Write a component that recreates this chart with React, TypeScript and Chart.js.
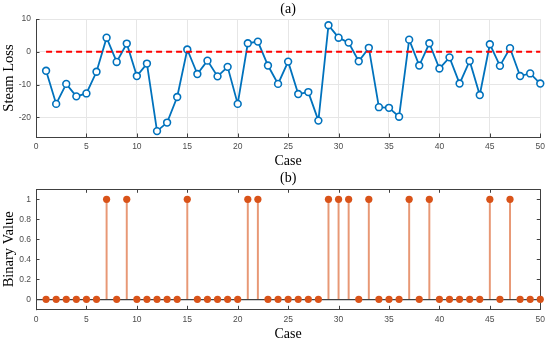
import React, { useEffect, useRef } from 'react';
import { Chart, registerables } from 'chart.js';

Chart.register(...registerables);

const cases = [
  1, 2, 3, 4, 5, 6, 7, 8, 9, 10, 11, 12, 13, 14, 15, 16, 17, 18, 19, 20, 21, 22, 23, 24, 25,
  26, 27, 28, 29, 30, 31, 32, 33, 34, 35, 36, 37, 38, 39, 40, 41, 42, 43, 44, 45, 46, 47, 48, 49, 50,
];

const steamLoss = [
  -5.8, -15.9, -9.8, -13.6, -12.7, -6.1, 4.3, -3.1, 2.5, -7.4,
  -3.6, -24.2, -21.6, -13.8, 0.7, -6.8, -2.7, -7.5, -4.6, -15.9,
  2.6, 3.1, -4.2, -9.8, -3.0, -12.9, -12.3, -21.0, 8.1, 4.3,
  2.8, -2.9, 1.2, -16.9, -17.1, -19.8, 3.7, -4.2, 2.6, -5.1,
  -1.7, -9.7, -2.8, -13.2, 2.3, -4.3, 1.1, -7.4, -6.6, -9.7,
];

const binaryValue = [
  0, 0, 0, 0, 0, 0, 1, 0, 1, 0,
  0, 0, 0, 0, 1, 0, 0, 0, 0, 0,
  1, 1, 0, 0, 0, 0, 0, 0, 1, 1,
  1, 0, 1, 0, 0, 0, 1, 0, 1, 0,
  0, 0, 0, 0, 1, 0, 1, 0, 0, 0,
];

const threshold = 0;
const caseTicks = [0, 5, 10, 15, 20, 25, 30, 35, 40, 45, 50];
const lossTicks = [-20, -10, 0, 10];
const binaryTicks = [0, 0.2, 0.4, 0.6, 0.8, 1];

const AXIS = '#404040';
const TICK_FONT = { family: 'Liberation Sans', size: 8.5 };
const TICK_COLOR = '#4d4d4d';
const SERIF = 'Liberation Serif';

const framePlugin = {
  id: 'frame',
  beforeDatasetsDraw(chart: any, _args: any, opts: any) {
    const { ctx, chartArea: a, scales } = chart;
    const xs = scales.x;
    const ys = scales.y;
    const L = 3.5;
    ctx.save();
    ctx.strokeStyle = opts.color || AXIS;
    ctx.lineWidth = 1;
    ctx.beginPath();
    xs.ticks.forEach((t: any) => {
      const p = Math.round(xs.getPixelForValue(t.value)) + 0.5;
      ctx.moveTo(p, a.bottom);
      ctx.lineTo(p, a.bottom - L);
      if (opts.box) {
        ctx.moveTo(p, a.top);
        ctx.lineTo(p, a.top + L);
      }
    });
    ys.ticks.forEach((t: any) => {
      const p = Math.round(ys.getPixelForValue(t.value)) + 0.5;
      ctx.moveTo(a.left, p);
      ctx.lineTo(a.left + L, p);
      if (opts.box) {
        ctx.moveTo(a.right, p);
        ctx.lineTo(a.right - L, p);
      }
    });
    if (opts.box) {
      ctx.rect(
        Math.round(a.left) + 0.5,
        Math.round(a.top) + 0.5,
        Math.round(a.right - a.left),
        Math.round(a.bottom - a.top)
      );
    }
    ctx.stroke();
    ctx.restore();
  },
};

function makeTop(): any {
  return {
    type: 'line',
    data: {
      datasets: [
        {
          label: 'Zero',
          data: [
            { x: cases[0], y: threshold },
            { x: cases[cases.length - 1], y: threshold },
          ],
          borderColor: '#FF0000',
          borderWidth: 2,
          borderDash: [6, 4],
          pointRadius: 0,
          order: 0,
          clip: false,
        },
        {
          label: 'Steam Loss',
          data: cases.map((c, i) => ({ x: c, y: steamLoss[i] })),
          borderColor: '#0072BD',
          borderWidth: 1.8,
          tension: 0,
          pointRadius: 3.4,
          pointBorderWidth: 1.6,
          pointBorderColor: '#0072BD',
          pointBackgroundColor: '#ffffff',
          order: 1,
          clip: false,
        },
      ],
    },
    options: {
      animation: false,
      responsive: false,
      devicePixelRatio: 1,
      layout: { padding: { left: 0, right: 8, top: 0, bottom: 0 } },
      plugins: {
        legend: { display: false },
        tooltip: { enabled: false },
        title: {
          display: true,
          text: '(a)',
          fullSize: false,
          color: '#000',
          font: { family: SERIF, size: 14, weight: 'normal', lineHeight: 1 },
          padding: { top: 2.5, bottom: 2.5 },
        },
        frame: { box: false, color: AXIS },
      },
      scales: {
        x: {
          type: 'linear',
          min: 0,
          max: 50,
          offset: false,
          afterBuildTicks: (s: any) => {
            s.ticks = caseTicks.map((v) => ({ value: v }));
          },
          afterFit: (s: any) => {
            s.height = 33;
          },
          ticks: { font: TICK_FONT, color: TICK_COLOR, padding: 5, maxRotation: 0, callback: (v: any) => String(v) },
          grid: { color: '#e6e6e6', lineWidth: 1, drawTicks: false },
          border: { color: AXIS, width: 1 },
          title: {
            display: true,
            text: 'Case',
            color: '#000',
            font: { family: SERIF, size: 14, lineHeight: 1 },
            padding: { top: 0, bottom: 2 },
          },
        },
        y: {
          type: 'linear',
          min: -26,
          max: 10,
          afterBuildTicks: (s: any) => {
            s.ticks = lossTicks.map((v) => ({ value: v }));
          },
          afterFit: (s: any) => {
            s.width = 36;
          },
          ticks: { font: TICK_FONT, color: TICK_COLOR, padding: 5, callback: (v: any) => String(v) },
          grid: { color: '#e6e6e6', lineWidth: 1, drawTicks: false },
          border: { color: AXIS, width: 1 },
          title: {
            display: true,
            text: 'Steam Loss',
            color: '#000',
            font: { family: SERIF, size: 14.5, lineHeight: 1 },
            padding: { top: 2, bottom: 0 },
          },
        },
      },
    },
    plugins: [framePlugin],
  };
}

function makeBottom(): any {
  return {
    type: 'scatter',
    data: {
      datasets: [
        {
          type: 'scatter',
          label: 'Binary',
          data: cases.map((c, i) => ({ x: c, y: binaryValue[i] })),
          pointRadius: 3.6,
          pointBorderWidth: 0,
          pointBackgroundColor: '#D95319',
          backgroundColor: '#D95319',
          borderColor: '#D95319',
          showLine: false,
          order: 0,
          clip: false,
        },
        {
          type: 'bar',
          label: 'Stem',
          data: cases.map((c, i) => ({ x: c, y: binaryValue[i] })),
          barThickness: 1.3,
          backgroundColor: 'rgba(217,83,25,0.6)',
          borderWidth: 0,
          order: 1,
        },
      ],
    },
    options: {
      animation: false,
      responsive: false,
      devicePixelRatio: 1,
      layout: { padding: { left: 0, right: 8, top: 0, bottom: 0 } },
      plugins: {
        legend: { display: false },
        tooltip: { enabled: false },
        title: {
          display: true,
          text: '(b)',
          fullSize: false,
          color: '#000',
          font: { family: SERIF, size: 14, weight: 'normal', lineHeight: 1 },
          padding: { top: 1, bottom: 4.3 },
        },
        frame: { box: true, color: AXIS },
      },
      scales: {
        x: {
          type: 'linear',
          min: 0,
          max: 50,
          offset: false,
          afterBuildTicks: (s: any) => {
            s.ticks = caseTicks.map((v) => ({ value: v }));
          },
          afterFit: (s: any) => {
            s.height = 33.7;
          },
          ticks: { font: TICK_FONT, color: TICK_COLOR, padding: 5, maxRotation: 0, callback: (v: any) => String(v) },
          grid: { display: false, drawTicks: false },
          border: { color: AXIS, width: 1 },
          title: {
            display: true,
            text: 'Case',
            color: '#000',
            font: { family: SERIF, size: 14, lineHeight: 1 },
            padding: { top: 0, bottom: 2 },
          },
        },
        y: {
          type: 'linear',
          min: -0.1,
          max: 1.1,
          afterBuildTicks: (s: any) => {
            s.ticks = binaryTicks.map((v) => ({ value: v }));
          },
          afterFit: (s: any) => {
            s.width = 36;
          },
          ticks: { font: TICK_FONT, color: TICK_COLOR, padding: 5, callback: (v: any) => String(v) },
          grid: {
            drawTicks: false,
            lineWidth: 1.2,
            color: (ctx: any) => (ctx.tick && ctx.tick.value === 0 ? AXIS : 'rgba(0,0,0,0)'),
          },
          border: { color: AXIS, width: 1 },
          title: {
            display: true,
            text: 'Binary Value',
            color: '#000',
            font: { family: SERIF, size: 14.5, lineHeight: 1 },
            padding: { top: 2, bottom: 0 },
          },
        },
      },
    },
    plugins: [framePlugin],
  };
}

export default function App() {
  const topRef = useRef<HTMLCanvasElement>(null);
  const bottomRef = useRef<HTMLCanvasElement>(null);

  useEffect(() => {
    const c1 = new Chart(topRef.current as HTMLCanvasElement, makeTop());
    const c2 = new Chart(bottomRef.current as HTMLCanvasElement, makeBottom());
    return () => {
      c1.destroy();
      c2.destroy();
    };
  }, []);

  return (
    <div style={{ position: 'absolute', left: 0, top: 0, width: 550, height: 343, background: '#fff' }}>
      <canvas ref={topRef} width={550} height={170} style={{ position: 'absolute', left: 0, top: 0 }} />
      <canvas ref={bottomRef} width={550} height={173} style={{ position: 'absolute', left: 0, top: 170 }} />
    </div>
  );
}
